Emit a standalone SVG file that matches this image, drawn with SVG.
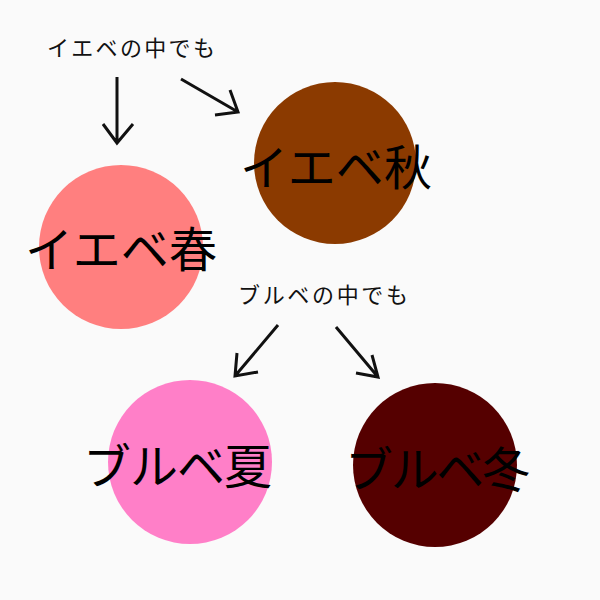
<svg xmlns="http://www.w3.org/2000/svg" width="600" height="600" viewBox="0 0 600 600">
<style>
.big{font-family:"Noto Sans CJK JP","Noto Sans CJK SC",sans-serif;font-size:48px;font-weight:400;fill:#000}
.sm{font-family:"Noto Sans CJK JP","Noto Sans CJK SC",sans-serif;font-size:22px;font-weight:400;fill:#111}
.ar{fill:none;stroke:#111;stroke-width:3;stroke-linecap:butt;stroke-linejoin:miter}
</style>
<rect width="600" height="600" fill="#fafafa"/>
<g id="label-yellow"><text class="sm" x="47" y="56" textLength="168">イエベの中でも</text></g>
<g id="label-blue"><text class="sm" x="238" y="303" textLength="170">ブルベの中でも</text></g>
<g id="spring"><circle cx="121" cy="247" r="82" fill="#ff7f7f"/><text class="big" x="25" y="267" textLength="192">イエベ春</text></g>
<g id="autumn"><circle cx="335" cy="163" r="81" fill="#8b3a00"/><text class="big" x="240" y="185" textLength="192">イエベ秋</text></g>
<g id="summer"><circle cx="190" cy="462" r="82" fill="#ff7fc8"/><text class="big" x="83" y="484" textLength="189">ブルベ夏</text></g>
<g id="winter"><circle cx="435" cy="465" r="82" fill="#550000"/><text class="big" x="345" y="487" textLength="185">ブルベ冬</text></g>
<g id="connectors">
<path class="ar" d="M117,77 V143 M103,124 L117,143 L133,124"/>
<path class="ar" d="M181,79 L238,112 M215,115 L238,112 L230,90"/>
<path class="ar" d="M278,325 L235,376 M237,353 L235,376 L258,372"/>
<path class="ar" d="M336,327 L378,377 M372,355 L378,377 L356,373"/>
</g>
</svg>
